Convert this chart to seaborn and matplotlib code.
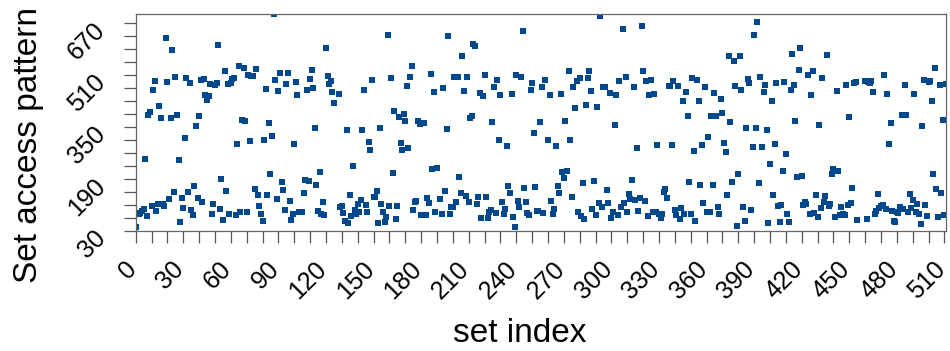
import numpy as np
import pandas as pd
import matplotlib
matplotlib.use("Agg")
import matplotlib.pyplot as plt
import matplotlib.transforms as mtransforms
import seaborn as sns

# Set access pattern values, read left to right, in segments of set indices
seg_starts = [0, 60, 128, 192, 260, 325, 391, 460]

seg_a = [42, 81, 83, 87, 92, 98, 251, 75, 388, 396, 108, 464, 492, 91, 114, 415, 379, 112, 106, 624,
         489, 128, 379, 587, 151, 506, 389, 248, 59, 133, 102, 316, 502, 149, 486, 96, 79, 170, 353, 133,
         383, 495, 120, 500, 450, 434, 445, 483, 82, 112, 481, 486, 603, 97, 190, 64, 522, 152, 483, 82]
seg_b = [485, 499, 501, 79, 299, 539, 88, 372, 532, 368, 88, 511, 307, 508, 508, 159, 530, 140, 106, 82,
         60, 310, 468, 140, 362, 205, 323, 698, 494, 129, 463, 516, 181, 156, 95, 483, 516, 122, 64, 82,
         297, 489, 449, 90, 89, 89, 146, 186, 465, 185, 498, 526, 471, 347, 171, 91, 211, 82, 118, 78,
         593, 508, 483, 492, 459, 426]
seg_c = [452, 103, 108, 85, 61, 341, 54, 140, 75, 229, 95, 81, 112, 90, 126, 340, 464, 109, 90, 303,
         279, 495, 134, 134, 152, 54, 347, 112, 90, 59, 72, 634, 106, 502, 208, 399, 67, 107, 382, 301,
         279, 390, 369, 477, 285, 506, 539, 95, 119, 122, 369, 360, 78, 79, 363, 79, 131, 117, 513, 221,
         458, 88, 224]
seg_d = [128, 82, 471, 154, 344, 631, 81, 103, 103, 504, 119, 504, 196, 148, 570, 461, 139, 505, 120, 378,
         383, 607, 600, 114, 134, 456, 69, 446, 510, 134, 69, 90, 94, 366, 474, 84, 495, 310, 449, 120,
         82, 97, 291, 168, 146, 452, 74, 41, 512, 121, 104, 506, 647, 162, 118, 84, 78, 465, 486, 331,
         166, 91, 91, 366, 474, 85, 495]
seg_e = [310, 449, 121, 82, 97, 291, 168, 146, 452, 211, 192, 369, 215, 522, 311, 134, 474, 408, 492, 90,
         502, 76, 177, 66, 419, 502, 522, 462, 97, 185, 78, 412, 115, 692, 103, 474, 474, 156, 115, 455,
         69, 88, 356, 449, 78, 492, 103, 652, 115, 506, 88, 143, 128, 187, 473, 126, 285, 91, 131, 663,
         522, 121, 492, 76, 449]
seg_f = [495, 88, 453, 88, 295, 81, 69, 81, 149, 159, 131, 477, 477, 294, 492, 95, 78, 477, 66, 100,
         430, 82, 459, 384, 180, 81, 501, 276, 60, 495, 430, 171, 294, 115, 474, 88, 321, 88, 384, 171,
         455, 384, 103, 81, 436, 393, 302, 274, 140, 570, 366, 181, 554, 477, 45, 205, 570, 465, 103, 61,
         347, 498, 486, 95, 288, 634]
seg_g = [347, 675, 178, 506, 288, 458, 479, 340, 54, 237, 430, 140, 299, 486, 107, 58, 109, 215, 489, 267,
         81, 58, 466, 575, 479, 369, 196, 526, 593, 199, 109, 120, 113, 511, 81, 449, 524, 85, 140, 73,
         356, 100, 501, 120, 137, 573, 106, 113, 206, 221, 73, 461, 215, 79, 103, 82, 79, 481, 109, 380,
         117, 162, 486, 490, 64]
seg_h = [492, 68, 490, 485, 492, 459, 82, 93, 144, 102, 107, 110, 511, 97, 452, 298, 362, 91, 60, 58,
         88, 85, 104, 389, 99, 481, 389, 88, 144, 101, 126, 453, 88, 112, 82, 52, 355, 496, 111, 76,
         489, 492, 432, 205, 532, 159, 72, 479, 146, 372, 79, 483]

segments = [seg_a, seg_b, seg_c, seg_d, seg_e, seg_f, seg_g, seg_h]

x_ticks = list(range(0, 511, 10))
x_labels = [str(t) if t % 30 == 0 else "" for t in x_ticks]
y_ticks = list(range(30, 671, 40))
y_labels = [str(t) if (t - 30) % 160 == 0 else "" for t in y_ticks]

rows = []
for start, seg in zip(seg_starts, segments):
    for k, v in enumerate(seg):
        rows.append((start + k, v))
df = pd.DataFrame(rows, columns=["set index", "Set access pattern"])

sns.set_theme(style="white")
plt.rcParams["font.family"] = ["Liberation Sans", "DejaVu Sans"]
plt.rcParams["text.color"] = "black"

fig = plt.figure(figsize=(9.5, 3.51), dpi=100)
ax = fig.add_axes([135.7 / 950, 1 - 231 / 351, (946 - 135.7) / 950, (231 - 14) / 351])

sns.scatterplot(data=df, x="set index", y="Set access pattern", ax=ax,
                marker="s", s=17, color="#00478c", linewidth=0, legend=False)

ax.set_xlim(0, 511)
ax.set_ylim(30, 699)
ax.set_xticks(x_ticks)
ax.set_xticklabels(x_labels)
ax.set_yticks(y_ticks)
ax.set_yticklabels(y_labels)
ax.tick_params(axis="both", which="major", bottom=True, left=True, top=False, right=False,
               direction="out", length=8.6, width=0.9, color="#555555",
               labelsize=18, pad=16, labelcolor="black")

xshift = mtransforms.ScaledTranslation(-3 / 100, 0, fig.dpi_scale_trans)
yshift = mtransforms.ScaledTranslation(0, -3 / 100, fig.dpi_scale_trans)
for lab in ax.get_xticklabels():
    lab.set_rotation(45)
    lab.set_rotation_mode("anchor")
    lab.set_ha("right")
    lab.set_va("center")
    lab.set_transform(lab.get_transform() + xshift)
for lab in ax.get_yticklabels():
    lab.set_rotation(45)
    lab.set_rotation_mode("anchor")
    lab.set_ha("right")
    lab.set_va("center")
    lab.set_transform(lab.get_transform() + yshift)

for sp in ax.spines.values():
    sp.set_color("#666666")
    sp.set_linewidth(0.9)

ax.set_xlabel("")
ax.set_ylabel("")
fig.text(520 / 950, 1 - 333 / 351, "set index", ha="center", va="center", fontsize=24, color="black")
fig.text(29 / 950, 1 - 145 / 351, "Set access pattern", ha="center", va="center",
         rotation=90, fontsize=24, color="black")

fig.savefig("out.png", dpi=100)
